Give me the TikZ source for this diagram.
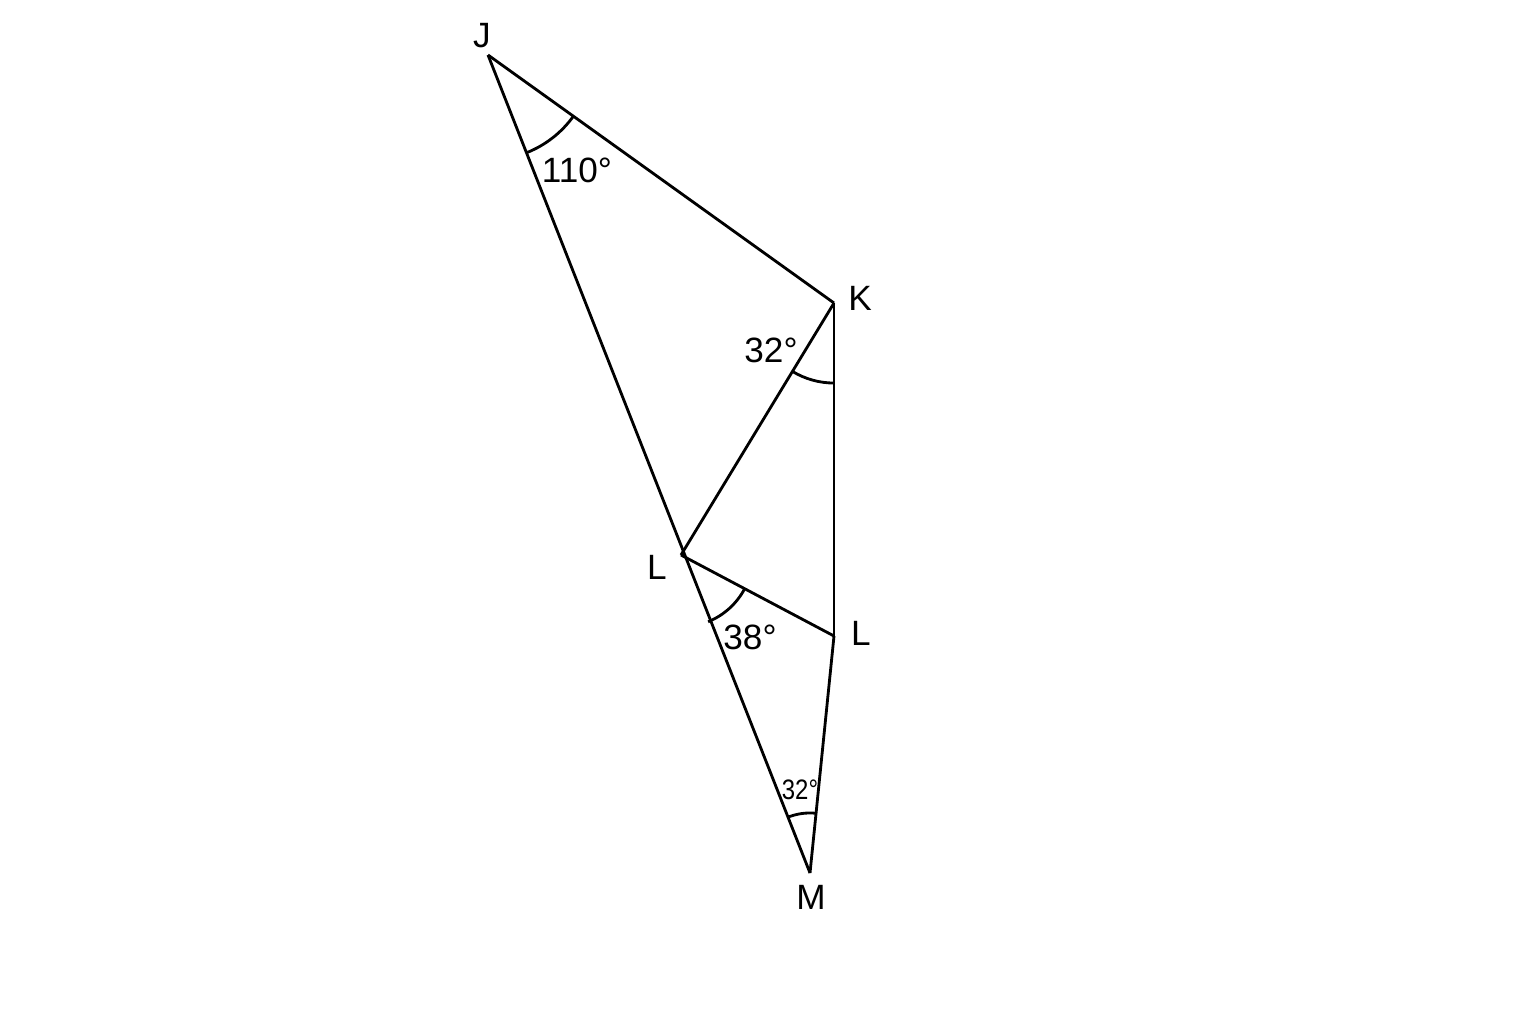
\documentclass[tikz,border=0pt]{standalone}
\usepackage{fontspec}
\setmainfont{Liberation Sans}
\usetikzlibrary{angles}
\begin{document}
\begin{tikzpicture}[x=0.01cm,y=-0.01cm]
 \tikzset{lbl/.style={font=\fontsize{10}{12}\selectfont}, anglemark/.style={draw, thick}}
  \useasboundingbox (0,0) rectangle (1536,1024);
  \coordinate (J) at (488,55);
  \coordinate (K) at (834,303);
  \coordinate (L1) at (681,555);
  \coordinate (L2) at (834,636);
  \coordinate (M) at (810,873);
  \node[lbl] (tJ) at (482,36) {J};
  \node[lbl] (tK) at (860,298) {K};
  \node[lbl] (tL1) at (657,567) {L};
  \node[lbl] (tL2) at (861,633) {L};
  \node[lbl] (tM) at (811,897) {M};
  \node[lbl] (aJ) at (577,170) {110°};
  \node[lbl] (aK) at (771,350) {32°};
  \node[lbl] (aL) at (750,637) {38°};
  \node[font=\fontsize{8}{10}\selectfont, xscale=0.85] (aM) at (800,790) {32°};
  \draw[thick] (J) -- (K);
  \draw[thick] (J) -- (M);
  \draw[thick] (K) -- (L1);
  \draw[thick] (K) -- (L2);
  \draw[thick] (L1) -- (L2);
  \draw[thick] (L2) -- (M);
  \pic[anglemark, angle radius=1.05cm] {angle = M--J--K};
  \pic[anglemark, angle radius=0.8cm] {angle = L1--K--L2};
  \pic[anglemark, angle radius=0.72cm] {angle = M--L1--L2};
  \pic[anglemark, angle radius=0.6cm] {angle = L2--M--L1};
\end{tikzpicture}
\end{document}
